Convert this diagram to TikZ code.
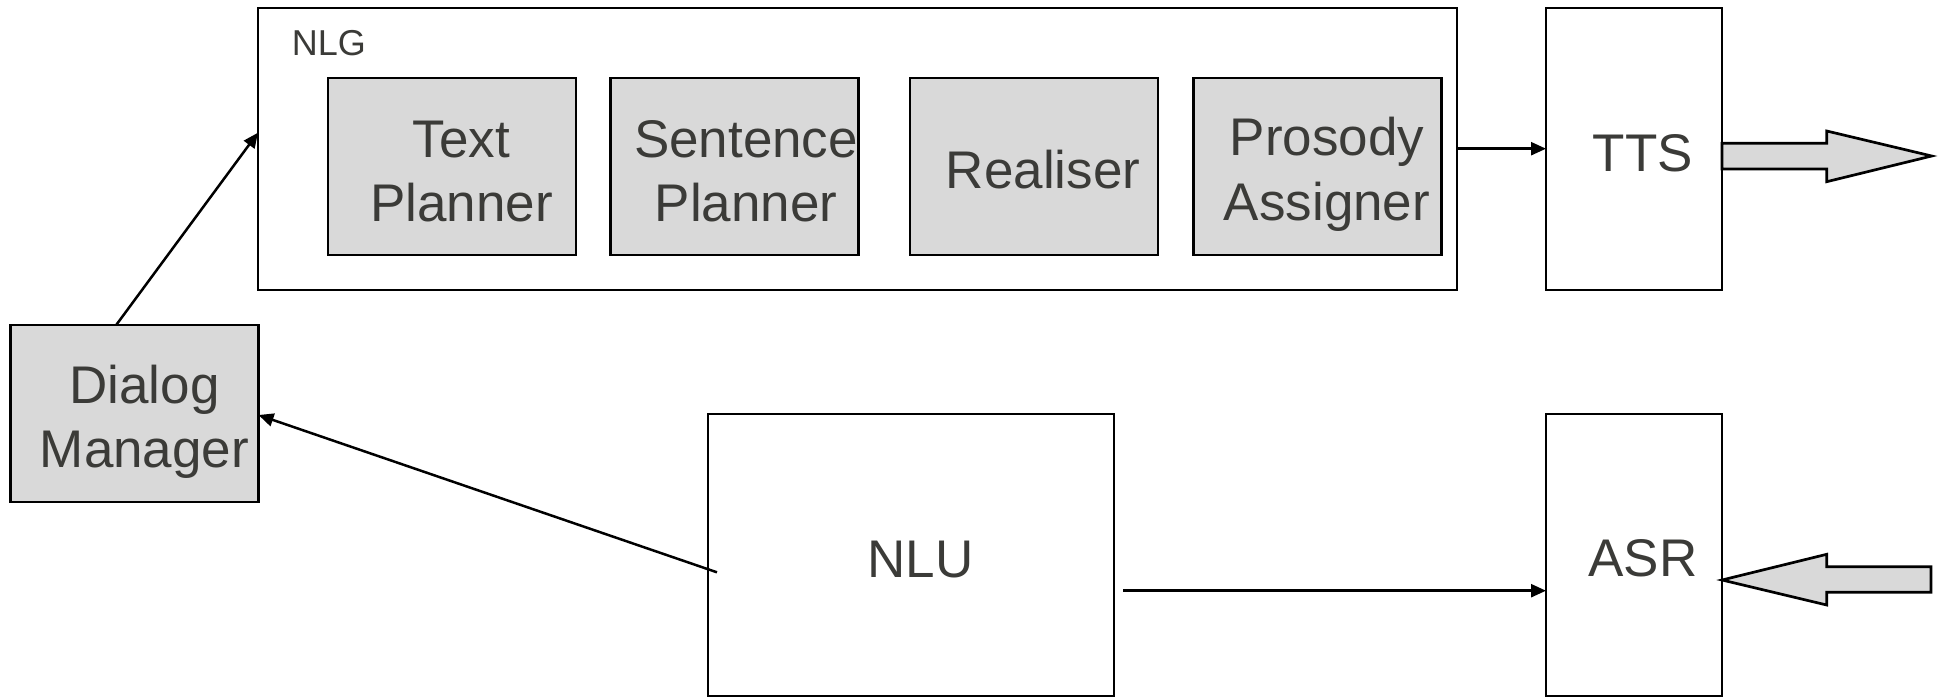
\documentclass[tikz,border=0pt]{standalone}
\usepackage{fontspec}
\setmainfont{Liberation Sans}
\usetikzlibrary{arrows.meta}
\definecolor{ink}{HTML}{3B3B38}
\definecolor{boxgray}{HTML}{D9D9D9}
\begin{document}
\begin{tikzpicture}[x=1pt,y=-1pt,
  frame/.style={draw, line width=2.7pt, rectangle, inner sep=0pt, outer sep=0pt},
  stage/.style={frame, fill=boxgray, minimum width=248pt, minimum height=177pt},
  lbl/.style={text=ink, font=\fontsize{53pt}{64pt}\selectfont, inner sep=0pt, anchor=base},
  small/.style={text=ink, font=\fontsize{36pt}{43pt}\selectfont, inner sep=0pt, anchor=base west},
  conn/.style={line width=2.5pt, -{Triangle[length=15pt,width=13pt]}},
  bigarrow/.style={draw, line width=2.7pt, fill=boxgray, line join=miter}]
\useasboundingbox (0,0) rectangle (1943,696);

% outer NLG frame and its four stages
\node[frame, minimum width=1199pt, minimum height=282pt] (nlg) at (857.5,149) {};
\node[small] (nlgl) at (291.7,55) {NLG};
\node[stage] (tp) at (452,166.5) {};
\node[stage] (sp) at (734.5,166.5) {};
\node[stage] (re) at (1034,166.5) {};
\node[stage] (pa) at (1317.5,166.5) {};

% speech components and understanding (lower boxes run to the bottom edge)
\node[frame, minimum width=176pt, minimum height=282pt] (tts) at (1634,149) {};
\node[frame, minimum width=176pt, minimum height=282.8pt] (asr) at (1634,555.4) {};
\node[frame, minimum width=406pt, minimum height=282.8pt] (nlu) at (911,555.4) {};
\node[stage] (dm) at (134.5,413.5) {};

% labels
\node[lbl] (tp1) at (461.5,157) {Text};
\node[lbl] (tp2) at (461.5,221) {Planner};
\node[lbl] (sp1) at (746,157) {Sentence};
\node[lbl] (sp2) at (746,221) {Planner};
\node[lbl] (re1) at (1043,188) {Realiser};
\node[lbl] (pa1) at (1327,155) {Prosody};
\node[lbl] (pa2) at (1327,220) {Assigner};
\node[lbl] (ttsl) at (1643,171) {TTS};
\node[lbl] (asrl) at (1643,576) {ASR};
\node[lbl] (nlul) at (920.5,577) {NLU};
\node[lbl] (dm1) at (144.5,403.5) {Dialog};
\node[lbl] (dm2) at (144.5,467) {Manager};

% connectors
\draw[conn] ([xshift=105.7pt]dm.north west) -- ([yshift=-124.7pt]nlg.north west);
\draw[conn] ([xshift=9pt,yshift=-158.3pt]nlu.north west) -- ([yshift=-90pt]dm.north east);
\draw[conn] ([xshift=9pt,yshift=-176.7pt]nlu.north east) -- ([yshift=-176.7pt]asr.north west);
\draw[conn] ([yshift=-140.7pt]nlg.north east) -- ([yshift=-140.7pt]tts.north west);

% speech output and input block arrows
\draw[bigarrow] ([yshift=-135.3pt]tts.north east) -- ++(104.7,0) -- ++(0,-12.3)
  -- ++(105,25) -- ++(-105,25.7) -- ++(0,-12.7) -- ([yshift=-161pt]tts.north east) -- cycle;
\draw[bigarrow] ([yshift=-166pt]asr.north east) -- ++(104.7,-25.7) -- ++(0,12.4)
  -- ++(104.3,0) -- ++(0,25.6) -- ++(-104.3,0) -- ++(0,12.7) -- cycle;
\end{tikzpicture}
\end{document}
